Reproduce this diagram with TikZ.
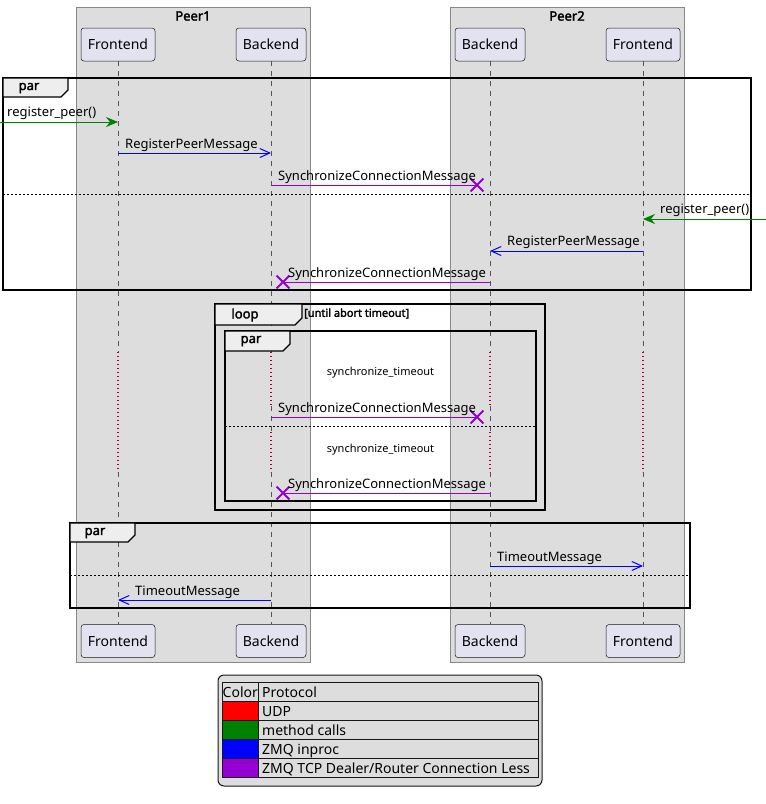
\documentclass[tikz,border=0pt]{standalone}
\usepackage{fontspec}
\setmainfont{Noto Sans}[AutoFakeBold=2.2]
\usetikzlibrary{arrows.meta,shapes.misc}

\definecolor{boxgray}{HTML}{DDDDDD}
\definecolor{boxedge}{HTML}{888888}
\definecolor{partfill}{HTML}{E2E2F0}
\definecolor{partedge}{HTML}{181818}
\definecolor{lifegray}{HTML}{555555}
\definecolor{delayred}{HTML}{A80036}
\definecolor{tabfill}{HTML}{EEEEEE}
\definecolor{udpred}{HTML}{FF0000}
\definecolor{callgreen}{HTML}{008000}
\definecolor{inprocblue}{HTML}{0000FF}
\definecolor{tcpviolet}{HTML}{9400D3}

% frame tab with a clipped lower right corner: x, y, width, height
\newcommand\seqtab[4]{%
  \draw[tabline] (#1,#2) -- ++(#3,0) -- ++(0,#4-7) -- ++(-7,7) -- (#1,#2+#4) -- cycle;}

\begin{document}
\begin{tikzpicture}[x=1pt,y=-1pt,
  part/.style={draw=partedge, fill=partfill, rounded corners=3pt, line width=0.5pt,
    minimum height=33pt, inner sep=0pt, font=\fontsize{14}{16}\selectfont},
  group/.style={draw=boxedge, fill=boxgray, line width=0.8pt},
  grouptitle/.style={font=\fontsize{13}{15}\selectfont\bfseries, inner sep=0pt},
  life/.style={draw=lifegray, line width=0.6pt, dash pattern=on 5pt off 5pt},
  delay/.style={draw=delayred, line width=1.1pt, dash pattern=on 1.2pt off 2.8pt},
  frameline/.style={draw=black, line width=1.6pt},
  tabline/.style={draw=black, line width=1.3pt, fill=tabfill},
  separator/.style={draw=black, line width=0.7pt, dash pattern=on 2pt off 2pt},
  tablabel/.style={font=\fontsize{13}{15}\selectfont\bfseries, inner sep=0pt},
  guard/.style={font=\fontsize{11}{13}\selectfont\bfseries, inner sep=0pt, anchor=west},
  msg/.style={font=\fontsize{13}{15}\selectfont, inner sep=0pt, anchor=base west},
  note/.style={font=\fontsize{11}{13}\selectfont, inner sep=0pt},
  call/.style={draw=callgreen, line width=1pt, -{Stealth[length=12pt,width=10pt,inset=4pt]}},
  inproc/.style={draw=inprocblue, line width=1pt, -{Straight Barb[length=10pt,width=9pt]}},
  tcp/.style={draw=tcpviolet, line width=1pt},
  xmark/.style={cross out, draw=tcpviolet, line width=1.8pt, minimum size=11pt, inner sep=0pt},
  legtext/.style={font=\fontsize{14}{16}\selectfont, inner sep=0pt, anchor=base west}
]
\useasboundingbox (0,0) rectangle (766,804);
\fill[white] (0,0) rectangle (766,804);

% participant groups
\draw[group] (76,7) rectangle (310,662);
\draw[group] (450,7) rectangle (684,662);
\node[grouptitle] (g1) at (193,16) {Peer1};
\node[grouptitle] (g2) at (567,16) {Peer2};

% participants, top and bottom
\node[part, minimum width=74pt] (pf1) at (118,44.5) {Frontend};
\node[part, minimum width=70pt] (pb1) at (271,44.5) {Backend};
\node[part, minimum width=70pt] (pb2) at (490,44.5) {Backend};
\node[part, minimum width=74pt] (pf2) at (643,44.5) {Frontend};
\node[part, minimum width=74pt] (qf1) at (118,641) {Frontend};
\node[part, minimum width=70pt] (qb1) at (271,641) {Backend};
\node[part, minimum width=70pt] (qb2) at (490,641) {Backend};
\node[part, minimum width=74pt] (qf2) at (643,641) {Frontend};

% lifelines, dotted while waiting for the timeout
\foreach \p/\q in {pf1/qf1,pf2/qf2}{
  \draw[life] (\p.south) -- (\p |- 0,352);
  \draw[delay] (\p |- 0,352) -- (\p |- 0,472);
  \draw[life] (\p |- 0,472) -- (\q.north);
}
\foreach \p/\q in {pb1/qb1,pb2/qb2}{
  \draw[life] (\p.south) -- (\p |- 0,352);
  \draw[delay] (\p |- 0,352) -- (\p |- 0,406);
  \draw[life] (\p |- 0,406) -- (\p |- 0,432);
  \draw[delay] (\p |- 0,432) -- (\p |- 0,472);
  \draw[life] (\p |- 0,472) -- (\q.north);
}

% ---- first par block ----
\draw[frameline] (3,78) rectangle (751,290);
\seqtab{3}{78}{65}{19}
\node[tablabel] (t1) at (29,88) {par};
\draw[separator] (3,194) -- (751,194);

\coordinate (in1) at (0,122);
\draw[call] (in1) -- (pf1 |- in1);
\node[msg] (l1) at (7,116) {register\_peer()};

\coordinate (m2) at (0,153);
\draw[inproc] (pf1 |- m2) -- (pb1 |- m2);
\node[msg] (l2) at (125,148) {RegisterPeerMessage};

\node[xmark] (x1) at (477,185) {};
\draw[tcp] (pb1 |- x1) -- (x1.center);
\node[msg] (l3) at (278,180) {SynchronizeConnectionMessage};

\coordinate (in2) at (766,219);
\draw[call] (in2) -- (pf2 |- in2);
\node[msg] (l4) at (660,213) {register\_peer()};

\coordinate (m5) at (0,251);
\draw[inproc] (pf2 |- m5) -- (pb2 |- m5);
\node[msg] (l5) at (507,245) {RegisterPeerMessage};

\node[xmark] (x2) at (283,282) {};
\draw[tcp] (pb2 |- x2) -- (x2.center);
\node[msg] (l6) at (288,277) {SynchronizeConnectionMessage};

% ---- loop with nested par ----
\draw[frameline] (215,304) rectangle (545,510);
\seqtab{215}{304}{87}{21}
\node[tablabel] (t2) at (245,315) {loop};
\node[guard] (gd) at (304,313.5) {[until abort timeout]};

\draw[frameline] (225,331) rectangle (536,501);
\seqtab{225}{331}{65}{20}
\node[tablabel] (t3) at (251,341) {par};
\draw[separator] (225,426) -- (536,426);

\node[note] (d1) at (380.5,373) {synchronize\_timeout};
\node[xmark] (x3) at (477,417) {};
\draw[tcp] (pb1 |- x3) -- (x3.center);
\node[msg] (l7) at (278,412) {SynchronizeConnectionMessage};

\node[note] (d2) at (380.5,450) {synchronize\_timeout};
\node[xmark] (x4) at (283,493) {};
\draw[tcp] (pb2 |- x4) -- (x4.center);
\node[msg] (l8) at (288,488) {SynchronizeConnectionMessage};

% ---- final par block ----
\draw[frameline] (70,523) rectangle (690,608);
\seqtab{70}{523}{65}{19}
\node[tablabel] (t4) at (95,533) {par};
\draw[separator] (70,575) -- (690,575);

\coordinate (m9) at (0,566);
\draw[inproc] (pb2 |- m9) -- (pf2 |- m9);
\node[msg] (l9) at (497,561) {TimeoutMessage};

\coordinate (m10) at (0,600);
\draw[inproc] (pb1 |- m10) -- (pf1 |- m10);
\node[msg] (l10) at (135,595) {TimeoutMessage};

% ---- legend ----
\draw[draw=partedge, fill=boxgray, line width=1pt, rounded corners=6pt] (218,675) rectangle (542,786);
\fill[udpred] (222,701) rectangle (258,720);
\fill[callgreen] (222,720) rectangle (258,739);
\fill[inprocblue] (222,739) rectangle (258,758);
\fill[tcpviolet] (222,758) rectangle (258,777);
\draw[partedge, line width=0.9pt] (222,682) rectangle (538,777);
\foreach \yy in {701,720,739,758}{\draw[partedge, line width=0.9pt] (222,\yy) -- (538,\yy);}
\draw[partedge, line width=0.9pt] (258,682) -- (258,777);
\node[legtext] (lc) at (222.5,697) {Color};
\node[legtext] (lp) at (262,697) {Protocol};
\node[legtext] (lu) at (262,716) {UDP};
\node[legtext] (lm) at (262,735) {method calls};
\node[legtext] (lz) at (262,754) {ZMQ inproc};
\node[legtext] (lt) at (262,773) {ZMQ TCP Dealer/Router Connection Less};
\end{tikzpicture}
\end{document}
